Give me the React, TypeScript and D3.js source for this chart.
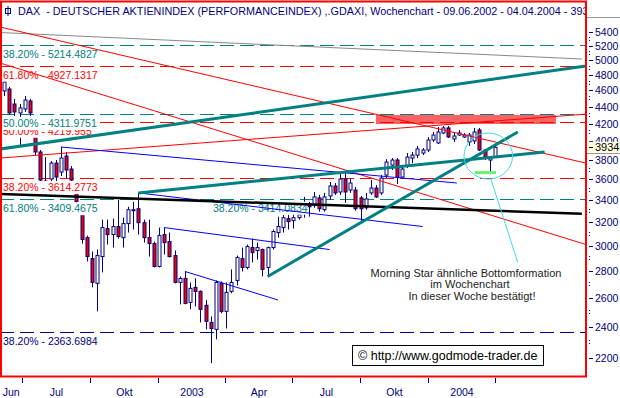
import * as d3 from 'd3';

// weekly candles, first week placed on Thursday 06.06.2002
const startDate = new Date(Date.UTC(2002, 5, 6));
const endDate = new Date(Date.UTC(2004, 3, 1));

const opens = [
  4594, 4619, 4432, 4324, 4372, 4469, 4058, 3883, 3516, 3604,
  3766, 3674, 3840, 3705, 3555, 3267, 3067, 2895, 2704, 2911,
  3144, 3093, 3162, 3067, 3188, 3303, 3321, 3196, 3067, 3017,
  2833, 3093, 3034, 2919, 2711, 2741, 2566, 2674, 2645, 2545,
  2428, 2382, 2704, 2503, 2645, 2726, 2895, 2825, 2984, 2960,
  2968, 2825, 2984, 3110, 3153, 3232, 3214, 3240, 3276, 3366,
  3357, 3422, 3312, 3440, 3536, 3478, 3604, 3497, 3497, 3422,
  3330, 3469, 3516, 3469, 3644, 3746, 3798, 3624, 3735, 3819,
  3850, 3872, 3904, 4014, 3981, 4092, 4149, 4025, 4069, 4047,
  3992, 4003, 4126, 3904, 3798, 3829,
];
const highs = [
  4735, 4645, 4494, 4432, 4531, 4494, 4149, 3904, 3829, 3787,
  3798, 3937, 3883, 3735, 3584, 3339, 3084, 2952, 2968, 3223,
  3223, 3232, 3403, 3240, 3339, 3385, 3469, 3223, 3223, 3034,
  3153, 3153, 3110, 2960, 2756, 2794, 2711, 2741, 2652, 2583,
  2469, 2726, 2719, 2711, 2810, 2919, 2984, 3009, 3059, 3025,
  2976, 2992, 3136, 3249, 3267, 3267, 3285, 3312, 3431, 3385,
  3478, 3450, 3469, 3575, 3565, 3654, 3664, 3614, 3526, 3440,
  3469, 3594, 3545, 3644, 3808, 3819, 3819, 3735, 3872, 3883,
  3948, 3926, 4047, 4103, 4160, 4171, 4171, 4092, 4126, 4092,
  4092, 4149, 4149, 3915, 3840, 3948,
];
const lows = [
  4531, 4300, 4288, 3937, 4336, 4288, 3850, 3565, 3440, 3497,
  3565, 3634, 3614, 3545, 3348, 3017, 2872, 2674, 2503, 2787,
  3009, 2984, 3059, 2984, 3110, 3136, 3093, 3025, 2911, 2825,
  2825, 2927, 2903, 2704, 2552, 2552, 2517, 2538, 2428, 2382,
  2171, 2317, 2490, 2388, 2631, 2689, 2794, 2810, 2864, 2887,
  2756, 2756, 2968, 3067, 3110, 3136, 3144, 3223, 3240, 3249,
  3330, 3294, 3294, 3403, 3450, 3450, 3375, 3469, 3303, 3205,
  3312, 3450, 3422, 3450, 3614, 3695, 3555, 3614, 3715, 3766,
  3819, 3850, 3883, 3992, 3970, 4081, 4036, 3992, 4058, 4036,
  3948, 3970, 3893, 3798, 3674, 3819,
];
const closes = [
  4709, 4324, 4336, 4384, 4481, 4324, 3883, 3594, 3584, 3766,
  3624, 3819, 3695, 3594, 3385, 3051, 2911, 2711, 2919, 3153,
  3093, 3162, 3076, 3188, 3312, 3312, 3196, 3067, 3017, 2833,
  3084, 3025, 2911, 2711, 2741, 2559, 2667, 2645, 2517, 2435,
  2388, 2711, 2503, 2638, 2711, 2903, 2825, 2992, 2943, 2984,
  2810, 2984, 3119, 3162, 3240, 3205, 3240, 3267, 3366, 3339,
  3431, 3321, 3431, 3536, 3469, 3604, 3478, 3565, 3321, 3321,
  3412, 3516, 3431, 3614, 3777, 3798, 3624, 3705, 3829, 3850,
  3915, 3904, 4014, 4069, 4103, 4149, 4047, 4058, 4092, 4069,
  4069, 4103, 3904, 3829, 3829, 3934,
];

const yTickValues = [2200, 2400, 2600, 2800, 3000, 3200, 3400, 3600, 3800, 4000, 4200, 4400, 4600, 4800, 5000, 5200, 5400];
const xLabels = ['Jun', 'Jul', 'Okt', '2003', 'Apr', 'Jul', 'Okt', '2004'];

const fibPercents = ['38.20%', '61.80%', '50.00%', '50.00%', '38.20%', '61.80%', '38.20%', '38.20%'];
const fibValues = ['5214.4827', '4927.1317', '4219.955', '4311.9751', '3614.2773', '3409.4675', '3414.0834', '2363.6984'];

// trend lines as [week index, price] end points
const grayLine = [[-0.77, 5397], [111.8, 5017]];
const redLines = [
  [[-0.77, 5480], [112.6, 3766]],
  [[-0.77, 4962], [112.6, 3009]],
  [[-0.77, 3819], [112.6, 4310]],
];
const blueLines = [
  [[11, 3937], [87.6, 3565]],
  [[26, 3469], [81, 3162]],
  [[31, 3153], [63, 2968]],
  [[35, 2794], [53, 2583]],
];
const blackLine = [[-0.77, 3459], [111.8, 3276]];
const tealLines = [
  [[-0.77, 3915], [112.6, 4922]],
  [[26, 3469], [104.6, 3883]],
  [[51, 2756], [99.4, 4103]],
];
const resistanceZone = { w0: 71.95, w1: 106.8, p0: 4300, p1: 4194 };
const bottomZone = { w0: 91.1, w1: 95.2, p0: 3684, p1: 3654 };
const focusRing = { w0: 89.0, w1: 98.4, p0: 4092, p1: 3604 };
const pointerLine = [[94.2, 3604], [99.4, 2864]];
const lastPrice = 3934;

const FONT = 'Liberation Sans, Arial, sans-serif';
const NAVY = '#000080';
const TEAL = '#008080';

export default function App() {
  const x = d3.scaleUtc().domain([startDate, endDate]).range([4, 495]);
  const y = d3.scaleLog().domain([2100, 5600]).range([375.1, 19.1]);
  const wx = (w: number) => x(new Date(startDate.getTime() + w * 7 * 864e5));
  const line = d3.line<number[]>().x(d => wx(d[0])).y(d => y(d[1]));

  const fibColors = ['#008080', '#ff0000', '#ff0000', '#008080', '#ff0000', '#008080', '#008080', NAVY];
  const fibLabelX = [2, 2, 2, 2, 2, 2, 212, 2];

  const xTicks = d3.utcMonth.every(3)!.range(new Date(Date.UTC(2002, 6, 1)), new Date(Date.UTC(2004, 3, 2)));
  const tickXs = xTicks.map(d => Math.round(x(d)) + 0.5);
  const bounds = [0, ...tickXs];

  const minorTicks = d3.range(2300, 5500, 200);

  const zone = (z: { w0: number; w1: number; p0: number; p1: number }) => ({
    x: wx(z.w0), y: y(z.p0), width: wx(z.w1) - wx(z.w0), height: y(z.p1) - y(z.p0),
  });
  const rz = zone(resistanceZone);
  const bz = zone(bottomZone);
  const ring = zone(focusRing);

  return (
    <svg width={620} height={398} style={{ position: 'absolute', left: 0, top: 0, background: '#fff' }} fontFamily={FONT}>
      <defs>
        <clipPath id="plot">
          <rect x={1} y={2} width={585} height={374} />
        </clipPath>
      </defs>
      <rect width={620} height={398} fill="#fff" />

      <g clipPath="url(#plot)">
        <rect {...rz} fill="#ff3b3b" opacity={0.8} />

        {fibValues.map((v, i) => (
          <line key={'f' + i} x1={0} x2={586} y1={Math.round(y(+v)) + 0.5} y2={Math.round(y(+v)) + 0.5}
            stroke={fibColors[i]} strokeDasharray="14,6" />
        ))}

        {opens.map((o, i) => {
          const cx = Math.round(wx(i)) + 0.5;
          const c = closes[i];
          const top = y(Math.max(o, c));
          const bot = y(Math.min(o, c));
          return (
            <g key={'c' + i}>
              <line x1={cx} x2={cx} y1={y(highs[i])} y2={y(lows[i])} stroke={NAVY} />
              <rect x={cx - 1.5} y={top} width={3} height={Math.max(bot - top, 1)}
                fill={c >= o ? '#fff' : '#f00000'} stroke={NAVY} />
            </g>
          );
        })}

        {fibValues.map((v, i) => {
          const text = `${fibPercents[i]} - ${v}`;
          const by = y(+v) + 13;
          return (
            <g key={'l' + i}>
              <rect x={fibLabelX[i]} y={by - 10} width={text.length * 5.3} height={13} fill="#fff" />
              <text x={fibLabelX[i] + 1} y={by} fontSize={10.5} fill={fibColors[i]}>{text}</text>
            </g>
          );
        })}

        <path d={line(grayLine)!} stroke="#888" fill="none" />
        {redLines.map((l, i) => <path key={'r' + i} d={line(l)!} stroke="#ff0000" fill="none" />)}
        {blueLines.map((l, i) => <path key={'b' + i} d={line(l)!} stroke="#0000ff" fill="none" />)}
        <path d={line(blackLine)!} stroke="#000" strokeWidth={2.5} fill="none" />
        {tealLines.map((l, i) => <path key={'t' + i} d={line(l)!} stroke={TEAL} strokeWidth={3} fill="none" />)}

        <rect {...bz} fill="#6cf36c" />
        <ellipse cx={ring.x + ring.width / 2} cy={ring.y + ring.height / 2} rx={ring.width / 2} ry={ring.height / 2}
          fill="none" stroke="#3cdcf0" />
        <path d={line(pointerLine)!} stroke="#3cdcf0" fill="none" />

        <g fontSize={11} fill="#222" textAnchor="middle">
          <text x={466} y={277}>Morning Star ähnliche Bottomformation</text>
          <text x={470} y={288}>im Wochenchart</text>
          <text x={472} y={300}>In dieser Woche bestätigt!</text>
        </g>

        <rect x={352.5} y={345.5} width={191} height={20} fill="#fff" stroke="#000" />
        <text x={358} y={360} fontSize={12.5} fill="#000">© http://www.godmode-trader.de</text>

        <rect x={5.5} y={8.5} width={5} height={5} fill="none" stroke={NAVY} />
        <line x1={8} x2={8} y1={6} y2={16} stroke={NAVY} />
        <text x={18} y={15} fontSize={10.8} fill={NAVY} style={{ whiteSpace: 'pre' }}>
          {'DAX  - DEUTSCHER AKTIENINDEX (PERFORMANCEINDEX) ,.GDAXI, Wochenchart - 09.06.2002 - 04.04.2004 - ' + lastPrice}
        </text>
      </g>

      <rect x={1} y={1.5} width={585} height={375} fill="none" stroke="#ff0000" strokeWidth={2} />

      {/* right price axis */}
      <line x1={587} x2={620} y1={17.5} y2={17.5} stroke="#999" />
      {minorTicks.map(v => (
        <g key={'m' + v}>
          <rect x={589} y={Math.round(y(v)) - 2} width={1} height={1} fill={NAVY} />
          <rect x={589} y={Math.round(y(v)) + 1} width={1} height={1} fill={NAVY} />
        </g>
      ))}
      {yTickValues.map(v => (
        <g key={'y' + v}>
          <line x1={589} x2={593} y1={Math.round(y(v)) + 0.5} y2={Math.round(y(v)) + 0.5} stroke={NAVY} />
          <text x={595} y={y(v) + 4} fontSize={10.5} fill={NAVY}>{v}</text>
        </g>
      ))}
      <rect x={587} y={y(lastPrice) - 5.5} width={33} height={11} fill="#ffffe1" />
      <line x1={587} x2={620} y1={Math.round(y(lastPrice)) + 6.5} y2={Math.round(y(lastPrice)) + 6.5} stroke="#999" />
      <line x1={589} x2={593} y1={Math.round(y(lastPrice)) + 0.5} y2={Math.round(y(lastPrice)) + 0.5} stroke="#000" />
      <text x={595} y={y(lastPrice) + 4} fontSize={11} fill="#000">{lastPrice}</text>

      {/* time axis */}
      {tickXs.map((tx, i) => (
        <line key={'xt' + i} x1={tx} x2={tx} y1={378} y2={383} stroke={NAVY} />
      ))}
      {xLabels.map((lab, i) => (
        <text key={'xl' + i} x={(bounds[i] + bounds[i + 1]) / 2} y={396} fontSize={10.5} fill={NAVY} textAnchor="middle">{lab}</text>
      ))}
    </svg>
  );
}
